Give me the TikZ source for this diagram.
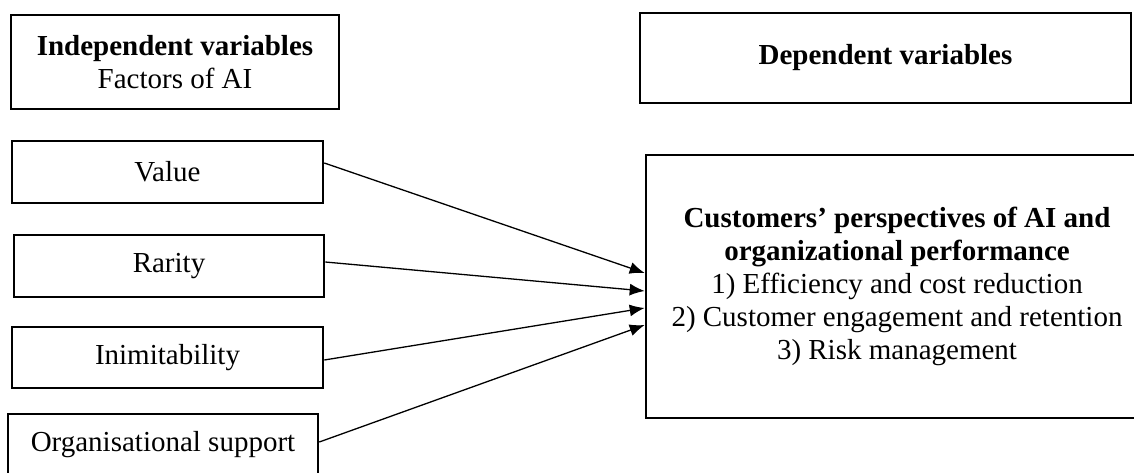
\documentclass[tikz,border=0pt]{standalone}
\usepackage{fontspec}
\setmainfont{Liberation Serif}
\usetikzlibrary{arrows.meta}
\begin{document}
\begin{tikzpicture}[x=1pt,y=-1pt,
  box/.style={draw=black,line width=2.6pt,inner sep=0pt,align=center,
    font=\fontsize{29}{33}\selectfont},
  arr/.style={line width=1.3pt,-{Latex[length=15pt,width=12pt]}}]
\useasboundingbox (0,0) rectangle (1134,473);
\clip (0,0) rectangle (1134,473);
\node[box,minimum width=328pt,minimum height=94pt] (iv) at (175,62)
  {\textbf{Independent variables}\\Factors of AI};
\node[box,minimum width=311pt,minimum height=62pt] (value) at (167.5,172) {Value};
\node[box,minimum width=310pt,minimum height=62pt] (rarity) at (169,266) {Rarity};
\node[box,minimum width=311pt,minimum height=61pt] (inim) at (167.5,357.5) {Inimitability};
\node[box,minimum width=310pt,minimum height=62pt] (org) at (163,445) {Organisational support};
\node[box,minimum width=491pt,minimum height=90pt] (dvh) at (885.5,58) {\textbf{Dependent variables}};
\node[box,minimum width=502pt,minimum height=263pt] (dv) at (897,286.5)
  {\textbf{Customers’ perspectives of AI and}\\\textbf{organizational performance}\\1) Efficiency and cost reduction\\2) Customer engagement and retention\\3) Risk management};
\draw[arr] ([yshift=9pt]value.east) -- ([yshift=13.5pt]dv.west);
\draw[arr] ([yshift=4pt]rarity.east) -- ([yshift=-4.5pt]dv.west);
\draw[arr] ([yshift=-2.5pt]inim.east) -- ([yshift=-21.5pt]dv.west);
\draw[arr] ([yshift=3pt]org.east) -- ([yshift=-38.5pt]dv.west);
\end{tikzpicture}
\end{document}
